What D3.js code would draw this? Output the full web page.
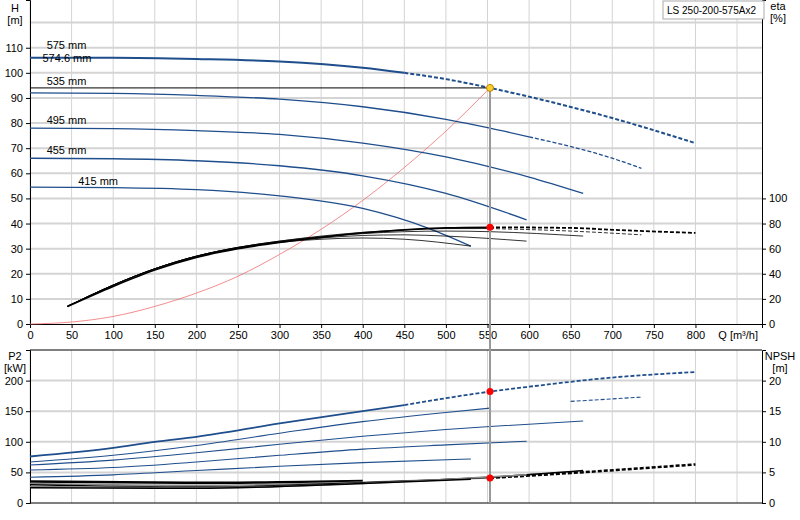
<!DOCTYPE html>
<html><head><meta charset="utf-8">
<script src="https://cdn.jsdelivr.net/npm/d3@7"></script>
<style>body{margin:0;background:#fff}text{font-family:"Liberation Sans",Arial,sans-serif;font-size:11px}</style>
</head><body><svg id="c" width="800" height="520"></svg>
<script>
// head curves per impeller diameter [Q, H]
var diameters = ["575 mm","535 mm","495 mm","455 mm","415 mm"];
var headCurves = [
  [[0,106],[100,106],[200,105.5],[300,104.5],[400,102],[450,100],[500,97.5],[553,94],[600,90.5],[700,82],[800,72]],
  [[0,92],[100,91.8],[200,91],[300,89.5],[400,86.5],[500,81.5],[553,78],[600,74.5],[700,66],[735,62]],
  [[0,78],[100,77.8],[200,77],[300,75.5],[400,72],[500,66.5],[600,58.5],[665,52]],
  [[0,66],[100,65.8],[200,65],[300,63],[400,59],[500,52],[597,41.5]],
  [[0,54.5],[100,54.3],[200,53.5],[300,51],[400,46],[480,38],[530,31]]
];
var headDashFrom = [450, 600, 9999, 9999, 9999];
// efficiency [Q, eta %]
var etaCurves = [
  [[45,14],[100,30],[150,43],[200,53],[250,60],[300,65],[350,69],[400,72.5],[450,75],[500,76.5],[553,77],[650,76.5],[700,75],[800,72.5]],
  [[45,14],[100,31],[150,44],[200,54],[250,61],[300,66],[350,70],[400,73],[450,75],[500,76],[553,76],[650,74],[735,71]],
  [[45,14],[100,31],[150,44],[200,54],[250,61],[300,66],[350,69.5],[400,72],[450,73.5],[500,74],[553,73.5],[665,70]],
  [[45,14],[100,31],[150,44],[200,54],[250,61],[300,65.5],[350,68.5],[400,70.5],[450,71],[500,70],[597,66]],
  [[45,14],[100,31],[150,44],[200,54],[250,60.5],[300,65],[350,67.5],[400,68.5],[450,67.5],[530,62]]
];
var etaDashFrom = [553, 553, 9999, 9999, 9999];
var systemCurve = [[0,0],[50,0.8],[100,3],[150,7],[200,12.3],[250,19],[300,27.7],[350,37.7],[400,49.2],[450,62.3],[500,76.8],[553,94]];
// power P2 [Q, kW]
var powerCurves = [
  [[0,76],[100,90],[150,100],[200,108],[300,130],[400,150],[450,160],[553,182],[600,190],[700,205],[800,214]],
  [[0,67],[100,78],[200,94],[300,114],[400,133],[500,148],[553,155],[650,166],[735,173]],
  [[0,62],[100,70],[200,82],[300,96],[400,109],[500,120],[553,125],[665,134]],
  [[0,54],[100,58],[200,67],[300,78],[400,88],[500,95],[597,101]],
  [[0,42],[100,46],[200,53],[300,60],[400,66],[530,72]]
];
// NPSH [Q, m]
var npshCurves = [
  [[0,3.5],[200,3.3],[400,3.6],[553,4.1],[650,4.9],[800,6.3]],
  [[0,3.2],[200,2.9],[400,3.4],[553,4.1],[735,5.4]],
  [[0,3.0],[200,2.6],[400,3.3],[553,4.2],[665,5.3]],
  [[0,2.7],[200,2.5],[400,3.2],[597,4.6]],
  [[0,2.5],[200,2.4],[400,3.2],[530,3.9]]
];
var duty = {q:553, h:94, eta:77, p2:182, npsh:4.1};
var qTicks = d3.range(0, 850, 50);
var title = "LS 250-200-575Ax2";

var svg = d3.select("#c");
var x = d3.scaleLinear().domain([0,880]).range([30,762]);
var yH = d3.scaleLinear().domain([0,129]).range([324,0]);
var yE = d3.scaleLinear().domain([0,258]).range([324,0]);
var yP = d3.scaleLinear().domain([0,250]).range([503,350]);
var yN = d3.scaleLinear().domain([0,25]).range([503,350]);
var blue = "#1f4e8c";

function grid(y0, y1, ys, ticks) {
  var g = svg.append("g");
  g.selectAll(".v").data(d3.range(0,900,50)).enter().append("line")
    .attr("x1",d=>x(d)).attr("x2",d=>x(d)).attr("y1",y0).attr("y2",y1)
    .attr("stroke","#d4d4d4");
  g.selectAll(".h").data(ticks).enter().append("line")
    .attr("x1",30).attr("x2",762).attr("y1",d=>ys(d)).attr("y2",d=>ys(d))
    .attr("stroke","#d4d4d4").attr("stroke-width",2);
}
grid(0, 324, yH, d3.range(10,130,10));
grid(350, 503, yP, d3.range(50,250,50));

function axis(gen, tx, ty) {
  var g = svg.append("g").attr("transform","translate("+tx+","+ty+")").call(gen);
  g.selectAll("text").attr("fill","#000").style("font-size","11px").style("font-family","Liberation Sans, Arial, sans-serif");
  return g;
}
axis(d3.axisLeft(yH).tickValues(d3.range(0,120,10)).tickSize(4), 30, 0);
axis(d3.axisRight(yE).tickValues(d3.range(0,120,20)).tickSize(4), 762, 0);
axis(d3.axisBottom(x).tickValues(qTicks).tickSize(4), 0, 324);
axis(d3.axisLeft(yP).tickValues(d3.range(0,250,50)).tickSize(4), 30, 0);
axis(d3.axisRight(yN).tickValues(d3.range(0,25,5)).tickSize(4), 762, 0);
svg.append("line").attr("x1",30).attr("x2",762).attr("y1",503).attr("y2",503).attr("stroke","#000");
svg.append("line").attr("x1",30).attr("x2",762).attr("y1",350).attr("y2",350).attr("stroke","#000");
svg.selectAll(".domain").attr("stroke","#000");

function txt(s, px, py, anchor) {
  svg.append("text").attr("x",px).attr("y",py).attr("text-anchor",anchor||"start").text(s);
}
txt("H",15,12,"middle"); txt("[m]",15,24,"middle");
txt("eta",778,10,"middle"); txt("[%]",778,22,"middle");
txt("P2",15,360,"middle"); txt("[kW]",15,372,"middle");
txt("NPSH",780,360,"middle"); txt("[m]",780,372,"middle");
txt("Q [m³/h]",758,339,"end");
svg.append("rect").attr("x",663).attr("y",1).attr("width",101).attr("height",18).attr("fill","#fff").attr("stroke","#aaa");
svg.append("text").attr("x",667).attr("y",14).style("font-size","10px").text(title);

var line = ys => d3.line().curve(d3.curveMonotoneX).x(d=>x(d[0])).y(d=>ys(d[1]));

// system curve
svg.append("path").attr("d",line(yH)(systemCurve)).attr("fill","none").attr("stroke","#f07070").attr("stroke-width",0.8);

function split(c, from, ys, color, w) {
  var solid = c.filter(d=>d[0]<=from);
  var dash = c.filter(d=>d[0]>=from);
  svg.append("path").attr("d",line(ys)(solid)).attr("fill","none").attr("stroke",color).attr("stroke-width",w);
  if (dash.length>1) svg.append("path").attr("d",line(ys)(dash)).attr("fill","none").attr("stroke",color)
    .attr("stroke-width",w).attr("stroke-dasharray","4,2");
}
headCurves.forEach((c,i)=>split(c, headDashFrom[i], yH, blue, i==0?2:1.3));
etaCurves.forEach((c,i)=>split(c, etaDashFrom[i], yE, "#000", i==0?1.8:0.8));
powerCurves.forEach((c,i)=>split(c, headDashFrom[i], yP, blue, i==0?1.8:1.1));
npshCurves.forEach((c,i)=>split(c, headDashFrom[i], yN, i%2?"#888":"#000", i==0?2.5:1.5));

// diameter labels
var labY = [109.5, 95, 79.5, 67.5, 55.5];
var labX = [20, 20, 20, 20, 58];
diameters.forEach(function(d,i){ txt(d, x(labX[i]), yH(labY[i])); });
txt("574.6 mm", x(15), yH(104.5));

// duty point
svg.append("line").attr("x1",x(duty.q)).attr("x2",x(duty.q)).attr("y1",yH(duty.h)).attr("y2",503).attr("stroke","#999").attr("stroke-width",2);
svg.append("line").attr("x1",30).attr("x2",x(duty.q)).attr("y1",yH(duty.h)).attr("y2",yH(duty.h)).attr("stroke","#000");
svg.append("circle").attr("cx",x(duty.q)).attr("cy",yH(duty.h)).attr("r",3.5).attr("fill","#f8d030").attr("stroke","#c08000");
[[yE,duty.eta],[yP,duty.p2],[yN,duty.npsh]].forEach(function(p){
  svg.append("circle").attr("cx",x(duty.q)).attr("cy",p[0](p[1])).attr("r",3.5).attr("fill","red");
});
</script></body></html>
